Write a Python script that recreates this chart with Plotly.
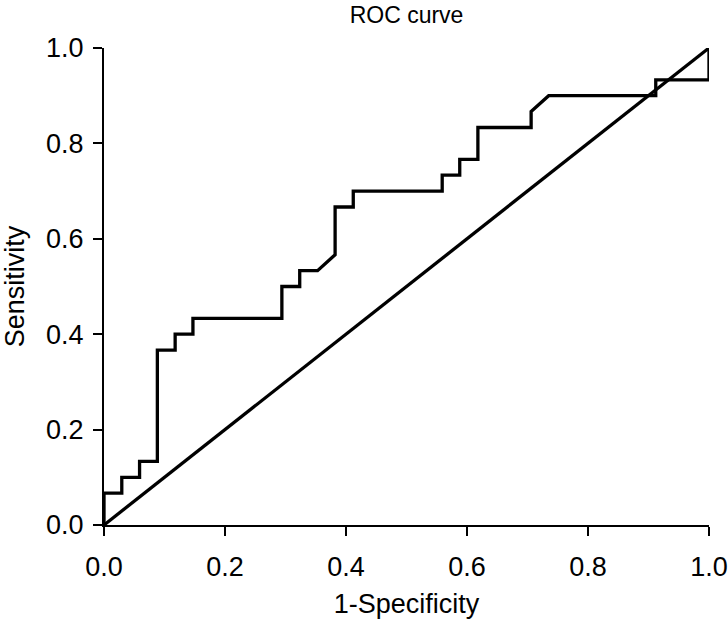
import plotly.graph_objects as go

# ROC curve points (1-Specificity, Sensitivity)
fpr = [0.0, 0.0, 0.0294, 0.0294, 0.0588, 0.0588, 0.0882, 0.0882, 0.1176, 0.1176,
       0.147, 0.147, 0.294, 0.294, 0.3235, 0.3235, 0.353, 0.382, 0.382, 0.412,
       0.412, 0.559, 0.559, 0.588, 0.588, 0.618, 0.618, 0.706, 0.706, 0.735,
       0.912, 0.912, 1.0, 1.0]
tpr = [0.0, 0.0667, 0.0667, 0.1, 0.1, 0.1333, 0.1333, 0.3667, 0.3667, 0.4,
       0.4, 0.4333, 0.4333, 0.5, 0.5, 0.5333, 0.5333, 0.5667, 0.6667, 0.6667,
       0.7, 0.7, 0.7333, 0.7333, 0.7667, 0.7667, 0.8333, 0.8333, 0.8667, 0.9,
       0.9, 0.9333, 0.9333, 1.0]
ref_x = [0.0, 1.0]
ref_y = [0.0, 1.0]
tick_vals = [0.0, 0.2, 0.4, 0.6, 0.8, 1.0]
tick_text = ["0.0", "0.2", "0.4", "0.6", "0.8", "1.0"]

fig = go.Figure()
fig.add_trace(go.Scatter(x=fpr, y=tpr, mode="lines",
                         line=dict(color="black", width=3.3),
                         cliponaxis=False, showlegend=False, hoverinfo="skip"))
fig.add_trace(go.Scatter(x=ref_x, y=ref_y, mode="lines",
                         line=dict(color="black", width=3.3),
                         cliponaxis=False, showlegend=False, hoverinfo="skip"))

FAM = "Liberation Sans, Arial, sans-serif"
fig.update_layout(
    width=728, height=623,
    margin=dict(l=104, r=19, t=48, b=98, autoexpand=False),
    paper_bgcolor="white", plot_bgcolor="white",
    font=dict(family=FAM, size=27, color="black"),
    title=dict(text="ROC curve", xref="paper", x=0.5, xanchor="center",
               yref="container", y=0.976, yanchor="middle",
               font=dict(family=FAM, size=23, color="black")),
)
fig.update_xaxes(range=[0, 1], tickvals=tick_vals, ticktext=tick_text,
                 showgrid=False, zeroline=False, showline=True, linecolor="black",
                 linewidth=2, ticks="outside", ticklen=9, tickwidth=2, tickcolor="black",
                 tickfont=dict(size=27), automargin=False, ticklabelstandoff=8,
                 title=dict(text="1-Specificity", standoff=13, font=dict(size=27)))
fig.update_yaxes(range=[0, 1], tickvals=tick_vals, ticktext=tick_text,
                 showgrid=False, zeroline=False, showline=True, linecolor="black",
                 linewidth=2, ticks="outside", ticklen=9, tickwidth=2, tickcolor="black",
                 tickfont=dict(size=27), automargin=False, ticklabelstandoff=4,
                 title=dict(text="Sensitivity", standoff=25, font=dict(size=27)))

# remove the default 8px page margin so the figure fills the window exactly
fig.write_html("out.html", config={"displayModeBar": False},
               post_script="document.body.style.margin='0';")
